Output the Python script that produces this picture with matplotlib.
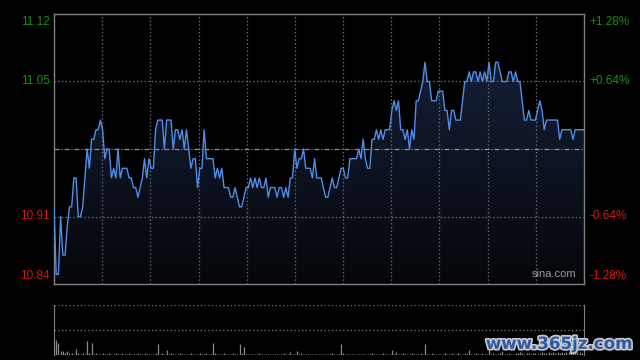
import numpy as np
import matplotlib.pyplot as plt
import matplotlib.patheffects as pe
from matplotlib.patches import Polygon

plt.rcParams['font.family'] = ['Liberation Sans', 'DejaVu Sans']

# 分时数据 (241 points, 9:30-15:00)
prices = [
    10.92, 10.85, 10.85, 10.91, 10.87, 10.87, 10.90, 10.92, 10.92, 10.95,
    10.95, 10.91, 10.91, 10.92, 10.95, 10.98, 10.96, 10.99, 10.99, 11.00,
    11.00, 11.01, 11.00, 10.97, 10.98, 10.98, 10.95, 10.96, 10.95, 10.98,
    10.95, 10.96, 10.96, 10.96, 10.95, 10.95, 10.94, 10.94, 10.93, 10.94,
    10.95, 10.97, 10.95, 10.97, 10.96, 10.96, 11.00, 11.01, 11.01, 11.01,
    10.98, 11.01, 11.01, 11.01, 10.98, 11.00, 11.00, 10.99, 11.00, 10.98,
    11.00, 10.98, 10.96, 10.97, 10.97, 10.94, 10.96, 10.96, 11.00, 10.97,
    10.97, 10.97, 10.97, 10.95, 10.96, 10.95, 10.96, 10.94, 10.94, 10.94,
    10.93, 10.93, 10.94, 10.93, 10.92, 10.92, 10.93, 10.94, 10.94, 10.95,
    10.94, 10.95, 10.94, 10.95, 10.94, 10.94, 10.95, 10.93, 10.94, 10.94,
    10.94, 10.93, 10.94, 10.94, 10.93, 10.94, 10.93, 10.95, 10.95, 10.98,
    10.96, 10.97, 10.97, 10.98, 10.96, 10.96, 10.96, 10.95, 10.97, 10.95,
    10.95, 10.95, 10.94, 10.93, 10.93, 10.94, 10.95, 10.94, 10.94, 10.95,
    10.96, 10.96, 10.95, 10.95, 10.97, 10.97, 10.97, 10.97, 10.98, 10.97,
    10.99, 10.97, 10.96, 10.96, 10.99, 10.99, 11.00, 10.99, 11.00, 10.99,
    11.00, 11.00, 11.00, 11.02, 11.03, 11.02, 11.03, 11.00, 11.00, 10.99,
    11.00, 10.98, 11.00, 10.99, 11.03, 11.03, 11.04, 11.05, 11.07, 11.05,
    11.05, 11.03, 11.03, 11.03, 11.04, 11.04, 11.04, 11.02, 11.02, 11.00,
    11.02, 11.02, 11.01, 11.01, 11.01, 11.03, 11.05, 11.05, 11.06, 11.05,
    11.06, 11.06, 11.05, 11.06, 11.05, 11.06, 11.05, 11.07, 11.05, 11.05,
    11.07, 11.07, 11.06, 11.05, 11.05, 11.05, 11.06, 11.06, 11.05, 11.06,
    11.05, 11.05, 11.03, 11.01, 11.01, 11.02, 11.01, 11.01, 11.01, 11.02,
    11.03, 11.02, 11.00, 11.01, 11.01, 11.01, 11.01, 11.01, 11.01, 10.99,
    11.00, 11.00, 11.00, 11.00, 11.00, 10.99, 11.00, 11.00, 11.00, 11.00,
    11.00,
]

# 成交量 (百手)
volumes = [
    8, 15, 12, 4, 4, 2, 4, 2, 2, 1,
    6, 2, 1, 2, 1, 14, 2, 12, 1, 2,
    1, 1, 2, 1, 1, 2, 1, 1, 2, 1,
    1, 2, 1, 1, 2, 1, 1, 1, 2, 1,
    1, 2, 1, 1, 1, 1, 2, 11, 1, 2,
    1, 5, 1, 2, 1, 1, 1, 2, 1, 1,
    1, 1, 2, 1, 1, 1, 2, 1, 1, 2,
    1, 1, 12, 2, 1, 1, 1, 2, 1, 1,
    1, 2, 1, 1, 11, 2, 8, 1, 1, 1,
    1, 1, 1, 2, 1, 1, 1, 1, 1, 1,
    1, 1, 1, 1, 2, 1, 1, 3, 1, 1,
    4, 1, 2, 1, 1, 1, 1, 1, 1, 1,
    1, 1, 1, 1, 1, 1, 2, 1, 1, 1,
    11, 2, 1, 1, 1, 1, 1, 1, 1, 1,
    1, 1, 1, 1, 2, 1, 1, 1, 1, 2,
    1, 1, 1, 5, 1, 3, 1, 1, 2, 1,
    1, 1, 2, 1, 1, 1, 2, 1, 11, 1,
    1, 2, 1, 1, 1, 1, 1, 2, 1, 1,
    2, 1, 1, 2, 1, 1, 2, 1, 5, 1,
    1, 2, 1, 1, 2, 1, 1, 5, 1, 2,
    1, 1, 2, 4, 1, 1, 2, 1, 1, 2,
    2, 3, 2, 1, 2, 2, 1, 2, 2, 1,
    2, 3, 2, 2, 3, 2, 3, 2, 3, 2,
    3, 2, 3, 3, 2, 3, 2, 3, 3, 2,
    3,
]

prev_close = 10.98
price_ticks = [11.12, 11.05, 10.91, 10.84]
pct_labels = ['+1.28%', '+0.64%', '-0.64%', '-1.28%']

x = np.arange(len(prices))
p = np.array(prices)

fig = plt.figure(figsize=(6.4, 3.6), dpi=100, facecolor='black')
ax = fig.add_axes([54 / 640, 1 - 284 / 360, 530 / 640, 270 / 360])
axv = fig.add_axes([54 / 640, 1 - 355 / 360, 530 / 640, 50.5 / 360])

grid_c = '#7a7a7a'
frame_c = '#808080'

# 价格区
ax.set_facecolor('black')
ax.set_xlim(0, 240)
ax.set_ylim(10.84, 11.12)
for k in range(1, 11):
    ax.axvline(240 * k / 11, color=grid_c, lw=0.9, ls=(0, (1, 2)), zorder=2)
for lv in [11.05, 10.91]:
    ax.axhline(lv, color=grid_c, lw=0.9, ls=(0, (1, 2)), zorder=2)
ax.axhline(prev_close, color='#909090', lw=0.9, ls=(0, (4, 1.5, 1, 1.5)), zorder=2)

# 渐变填充
verts = [(0, 10.84)] + list(zip(x, p)) + [(240, 10.84)]
poly = Polygon(verts, closed=True, facecolor='none', edgecolor='none')
ax.add_patch(poly)
grad = np.linspace(1, 0, 256).reshape(-1, 1)
top = np.array([0.08, 0.12, 0.21])
bot = np.array([0.02, 0.025, 0.04])
img = bot + grad[..., None] * (top - bot)
im = ax.imshow(img, extent=[0, 240, 10.84, 11.07], aspect='auto', origin='upper', zorder=1)
im.set_clip_path(poly)

ax.plot(x, p, color='#4f8ee8', lw=1.0, zorder=3)

ax.set_xticks([])
ax.set_yticks([])
for s in ax.spines.values():
    s.set_color(frame_c)
    s.set_linewidth(1)

# 左右刻度
colors = ['#159015', '#159015', '#d01818', '#d01818']
offs = [-6, 0, 0, 6]
for v, lab, c, o in zip(price_ticks, pct_labels, colors, offs):
    yy = (v - 10.84) / 0.28
    ax.annotate(f'{v:.2f}', xy=(0, yy), xycoords='axes fraction', xytext=(-3, o),
                textcoords='offset points', ha='right', va='center', color=c, fontsize=8.5)
    ax.annotate(lab, xy=(1, yy), xycoords='axes fraction', xytext=(4, o),
                textcoords='offset points', ha='left', va='center', color=c, fontsize=8.5)

ax.text(0.985, 0.02, 'sina.com', transform=ax.transAxes, ha='right', va='bottom',
        color='#9a9a9a', fontsize=8)

# 成交量区
axv.set_facecolor('black')
axv.set_xlim(0, 240)
axv.set_ylim(0, 50)
axv.vlines(x, 0, volumes, color='#8a8a8a', lw=0.9)
axv.axhline(25, color=grid_c, lw=0.9, ls=(0, (1, 2)))
axv.axhline(50, color=grid_c, lw=0.9, ls=(0, (1, 2)))
axv.set_xticks([])
axv.set_yticks([])
axv.spines['top'].set_visible(False)
axv.spines['bottom'].set_visible(False)
axv.spines['left'].set_color(frame_c)
axv.spines['right'].set_color(frame_c)

fig.text(0.988, 0.045, 'www.365jz.com', ha='right', va='center', color='#2a5aa8',
         fontsize=12, fontweight='bold', family='DejaVu Sans',
         path_effects=[pe.withStroke(linewidth=2.5, foreground='#c8c8c8')])

fig.savefig('out.png', dpi=100, facecolor='black')
